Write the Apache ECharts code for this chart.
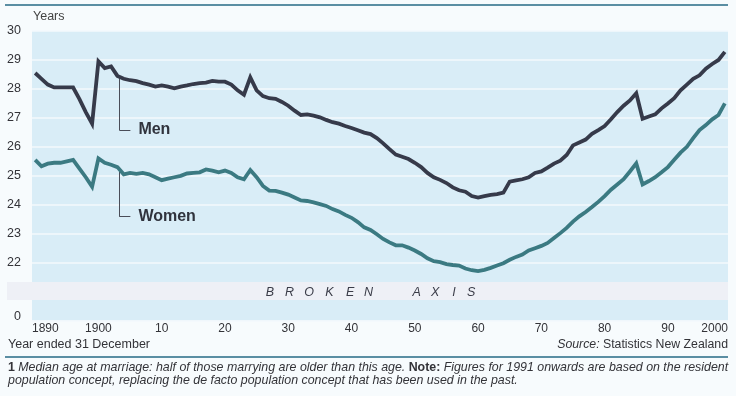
<!DOCTYPE html>
<html><head><meta charset="utf-8">
<script src="https://cdn.jsdelivr.net/npm/echarts@6/dist/echarts.min.js"></script>
<style>html,body{margin:0;padding:0;background:#f7fbfd}#c{width:736px;height:396px}</style>
</head><body><div id="c"></div>
<script>
const years = [1890,1891,1892,1893,1894,1895,1896,1897,1898,1899,
1900,1901,1902,1903,1904,1905,1906,1907,1908,1909,
1910,1911,1912,1913,1914,1915,1916,1917,1918,1919,
1920,1921,1922,1923,1924,1925,1926,1927,1928,1929,
1930,1931,1932,1933,1934,1935,1936,1937,1938,1939,
1940,1941,1942,1943,1944,1945,1946,1947,1948,1949,
1950,1951,1952,1953,1954,1955,1956,1957,1958,1959,
1960,1961,1962,1963,1964,1965,1966,1967,1968,1969,
1970,1971,1972,1973,1974,1975,1976,1977,1978,1979,
1980,1981,1982,1983,1984,1985,1986,1987,1988,1989,
1990,1991,1992,1993,1994,1995,1996,1997,1998,1999];
const men = [28.55,28.35,28.15,28.05,28.05,28.05,28.05,27.65,27.2,26.8,
28.95,28.72,28.78,28.45,28.35,28.3,28.27,28.2,28.15,28.08,
28.12,28.08,28.02,28.08,28.12,28.17,28.2,28.22,28.28,28.25,
28.25,28.15,27.95,27.8,28.4,27.95,27.75,27.68,27.66,27.55,
27.42,27.25,27.1,27.12,27.08,27.02,26.93,26.85,26.8,26.72,
26.65,26.57,26.49,26.44,26.3,26.12,25.92,25.73,25.66,25.58,
25.45,25.3,25.1,24.95,24.86,24.75,24.6,24.5,24.45,24.3,
24.25,24.3,24.34,24.37,24.42,24.8,24.84,24.88,24.95,25.1,
25.15,25.28,25.42,25.52,25.72,26.05,26.15,26.25,26.45,26.58,
26.72,26.95,27.2,27.42,27.6,27.85,26.97,27.05,27.12,27.33,
27.5,27.68,27.95,28.15,28.35,28.47,28.7,28.86,29.0,29.28];
const women = [25.55,25.33,25.42,25.45,25.45,25.5,25.55,25.25,24.95,24.62,
25.6,25.45,25.38,25.3,25.05,25.1,25.07,25.1,25.05,24.95,
24.85,24.9,24.95,25.0,25.08,25.1,25.12,25.22,25.18,25.12,
25.18,25.1,24.95,24.88,25.2,24.95,24.65,24.49,24.48,24.42,
24.35,24.25,24.15,24.13,24.08,24.02,23.96,23.85,23.77,23.65,
23.55,23.4,23.22,23.13,22.98,22.82,22.7,22.6,22.6,22.52,
22.42,22.3,22.15,22.05,22.02,21.95,21.92,21.9,21.8,21.74,
21.71,21.75,21.82,21.9,21.98,22.1,22.2,22.28,22.42,22.5,
22.58,22.68,22.85,23.02,23.2,23.42,23.6,23.75,23.92,24.1,
24.3,24.52,24.7,24.88,25.15,25.43,24.7,24.82,24.95,25.12,
25.3,25.55,25.8,26.0,26.3,26.58,26.75,26.95,27.1,27.5];
const xTickYears = [1890,1900,1910,1920,1930,1940,1950,1960,1970,1980,1990,2000];
const xTickLabels = ['1890','1900','10','20','30','40','50','60','70','80','90','2000'];
const yTickLabels = {30:'30',29:'29',28:'28',27:'27',26:'26',25:'25',24:'24',23:'23',22:'22',20:'0'};
const seriesNames = ['Men','Women'];

const X_MIN = 1889.5, X_MAX = 1999.5;
const font = "'Liberation Sans', Arial, Helvetica, sans-serif";
const txt = '#333338';
const menColor = '#363a4a', womenColor = '#3b7a82';

const chart = echarts.init(document.getElementById('c'), null, {renderer:'canvas'});

// first and last labels sit on the axis ends (left / right aligned as in the original)
const xCustom = xTickYears.map((y,i)=> i===0 ? X_MIN : (i===xTickYears.length-1 ? X_MAX : y));

function leader(data, year, endY, stubYear, name){
  const i = years.indexOf(Math.floor(year));
  const f = year - Math.floor(year);
  const v = data[i] + (data[i+1]-data[i])*f;
  return {
    silent:true, symbol:'none', animation:false,
    lineStyle:{color:'#4a4d58', width:1, type:'solid'},
    label:{show:false},
    data:[
      [{coord:[year, v]},{coord:[year, endY]}],
      [{coord:[year, endY]},{coord:[stubYear, endY], label:{show:true, position:'end', distance:8, formatter:name, color:'#30333d', fontFamily:font, fontWeight:'bold', fontSize:16}}]
    ]
  };
}

chart.setOption({
  animation:false,
  backgroundColor:'#f7fbfd',
  grid:{left:32, right:8, top:31, bottom:75.4, show:true, backgroundColor:'#d9edf7', borderWidth:0},
  xAxis:{type:'value', min:X_MIN, max:X_MAX,
    axisLine:{show:false}, axisTick:{show:false}, splitLine:{show:false},
    axisLabel:{customValues:xCustom, margin:2, color:txt, fontSize:12, fontFamily:font,
      formatter:(v)=>{ const i = xCustom.indexOf(v); return i>=0 ? xTickLabels[i] : ''; },
      alignMinLabel:'left', alignMaxLabel:'right'}
  },
  yAxis:{type:'value', min:20, max:30, interval:1,
    axisLine:{show:false}, axisTick:{show:false},
    splitLine:{show:true, lineStyle:{color:'#f3f9fc', width:1.6}},
    axisLabel:{margin:11, color:txt, fontSize:12.5, fontFamily:font,
      formatter:(v)=>{ if(v===20) return '{z|0}'; return yTickLabels[v]||''; },
      rich:{z:{padding:[0,0,8,0], fontSize:12.5, color:txt, fontFamily:font}}}
  },
  series:[
    {name:seriesNames[0], type:'line', data:years.map((y,i)=>[y,men[i]]), showSymbol:false, symbol:'none',
     lineStyle:{color:menColor, width:3.8, join:'miter'}, z:5,
     markLine:leader(men, 1903.3, 26.58, 1905.05, 'Men')},
    {name:seriesNames[1], type:'line', data:years.map((y,i)=>[y,women[i]]), showSymbol:false, symbol:'none',
     lineStyle:{color:womenColor, width:3.8, join:'miter'}, z:5,
     markLine:leader(women, 1903.3, 23.59, 1905.05, 'Women')}
  ]
});

// decorations positioned through the chart's own scales
const pTop = chart.convertToPixel({gridIndex:0},[X_MIN, 21.33]);
const pBot = chart.convertToPixel({gridIndex:0},[X_MIN, 20.71]);
const pR = chart.convertToPixel({gridIndex:0},[X_MAX, 21]);
const bandMid = (pTop[1]+pBot[1])/2 + 1;
const letters = [['B',1927.1],['R',1930.2],['O',1933.3],['K',1936.5],['E',1939.8],['N',1942.7],['A',1950.3],['X',1953.2],['I',1956.2],['S',1958.9]];
const letterEls = letters.map(([ch,yr])=>{
  const p = chart.convertToPixel({gridIndex:0},[yr,21]);
  return {type:'text', z:12, style:{text:ch, x:p[0], y:bandMid, align:'center', verticalAlign:'middle', font:"italic 12.5px "+font, fill:'#3a3c48'}};
});

chart.setOption({graphic:[
  {type:'rect', z:10, shape:{x:7, y:pTop[1], width:pR[0]-7, height:pBot[1]-pTop[1]}, style:{fill:'#eef0f6'}},
  ...letterEls,
  {type:'rect', z:10, shape:{x:5, y:4, width:723, height:2}, style:{fill:'#5a8ea3'}},
  {type:'rect', z:10, shape:{x:5, y:356, width:723, height:2}, style:{fill:'#5a8ea3'}},
  {type:'text', z:10, style:{text:'Years', x:33, y:17, verticalAlign:'middle', font:"12.5px "+font, fill:'#444'}},
  {type:'text', z:10, style:{text:'Year ended 31 December', x:8, y:345, verticalAlign:'middle', font:"12.5px "+font, fill:txt}},
  {type:'text', z:10, style:{text:'{i|Source:} {n|Statistics New Zealand}', x:728, y:345, align:'right', verticalAlign:'middle',
    rich:{i:{font:"italic 12.3px "+font, fill:txt}, n:{font:"12.3px "+font, fill:txt}}}},
  {type:'text', z:10, style:{text:'{b|1} {i|Median age at marriage: half of those marrying are older than this age.} {b|Note:} {i|Figures for 1991 onwards are based on the resident}', x:8, y:368, verticalAlign:'middle',
    rich:{i:{font:"italic 12.4px "+font, fill:txt}, b:{font:"bold 12.4px "+font, fill:txt}}}},
  {type:'text', z:10, style:{text:'population concept, replacing the de facto population concept that has been used in the past.', x:8, y:381, verticalAlign:'middle', font:"italic 12.4px "+font, fill:txt}}
]});
</script></body></html>
